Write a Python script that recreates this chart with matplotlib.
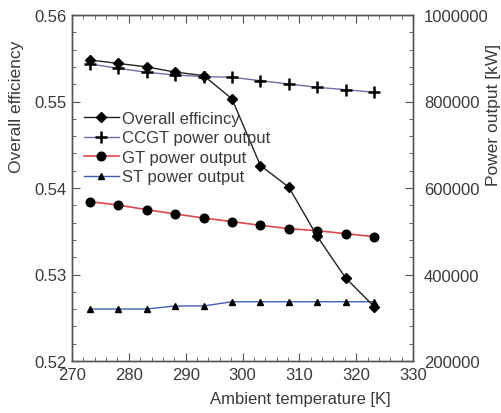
import matplotlib
matplotlib.use("Agg")
import matplotlib.pyplot as plt
from matplotlib.ticker import MultipleLocator
from matplotlib.lines import Line2D

plt.rcParams['font.family'] = ['Liberation Sans', 'DejaVu Sans']

# Ambient temperature [K]
temperature = [273.15, 278.15, 283.15, 288.15, 293.15, 298.15,
               303.15, 308.15, 313.15, 318.15, 323.15]

# Overall efficiency [-]
efficiency = [0.5548, 0.5544, 0.5540, 0.5534, 0.5530, 0.5503,
              0.5426, 0.5401, 0.5344, 0.5296, 0.5263]

# Power outputs [kW]
ccgt_power = [886700, 876800, 867500, 861300, 857400, 856000,
              848100, 840500, 832800, 827300, 821300]
gt_power = [568300, 560700, 549800, 540000, 530600, 522200,
            513800, 506000, 501300, 494400, 487500]
st_power = [320200, 320200, 320200, 327200, 327200, 337000,
            337000, 337000, 337000, 337000, 337000]

series_labels = ["Overall efficincy", "CCGT power output",
                 "GT power output", "ST power output"]

text_color = "#3a3a3a"
spine_color = "#555555"

fig = plt.figure(figsize=(5.01, 4.14), dpi=100)
ax = fig.add_axes([72 / 501, 1 - 362 / 414, 341 / 501, 346 / 414])
ax2 = ax.twinx()

c_ccgt = "#7b68a8"
c_gt = "#e0474c"
c_st = "#3f5fb5"

style_eff = dict(color="#222222", lw=1.0, marker="D", ms=5,
                 mec="black", mfc="black")
style_ccgt = dict(color=c_ccgt, lw=1.0, marker="+", ms=9, mew=1.8,
                  mec="black", mfc="black")
style_gt = dict(color=c_gt, lw=1.2, marker="o", ms=6.2,
                mec="black", mfc="black")
style_st = dict(color=c_st, lw=1.0, marker="^", ms=5,
                mec="black", mfc="black")

ax2.plot(temperature, ccgt_power, zorder=3, **style_ccgt)
ax2.plot(temperature, gt_power, zorder=3, **style_gt)
ax2.plot(temperature, st_power, zorder=3, **style_st)

ax.set_zorder(ax2.get_zorder() + 1)
ax.patch.set_visible(False)
ax.plot(temperature, efficiency, zorder=4, **style_eff)

ax.set_xlim(270, 330)
ax.set_ylim(0.52, 0.56)
ax2.set_ylim(200000, 1000000)

ax.xaxis.set_major_locator(MultipleLocator(10))
ax.xaxis.set_minor_locator(MultipleLocator(2))
ax.yaxis.set_major_locator(MultipleLocator(0.01))
ax.yaxis.set_minor_locator(MultipleLocator(0.002))
ax2.yaxis.set_major_locator(MultipleLocator(200000))
ax2.yaxis.set_minor_locator(MultipleLocator(40000))
ax.yaxis.set_major_formatter(plt.FuncFormatter(lambda v, p: f"{v:.2f}"))
ax2.yaxis.set_major_formatter(plt.FuncFormatter(lambda v, p: f"{int(round(v))}"))

for a in (ax, ax2):
    for s in a.spines.values():
        s.set_color(spine_color)
        s.set_linewidth(1.0)

ax.tick_params(axis="x", which="both", direction="in", top=True,
               colors=spine_color, labelcolor=text_color, labelsize=12, pad=4)
ax.tick_params(axis="x", which="major", length=6)
ax.tick_params(axis="x", which="minor", length=3)
ax.tick_params(axis="y", which="both", direction="in", right=False,
               colors=spine_color, labelcolor=text_color, labelsize=12, pad=4)
ax.tick_params(axis="y", which="major", length=6)
ax.tick_params(axis="y", which="minor", length=3)
ax2.tick_params(axis="y", which="both", direction="in",
                colors=spine_color, labelcolor=text_color, labelsize=12, pad=8)
ax2.tick_params(axis="y", which="major", length=6)
ax2.tick_params(axis="y", which="minor", length=3)

ax.set_xlabel("Ambient temperature [K]", fontsize=12, color=text_color)
ax.xaxis.set_label_coords(0.67, -0.087)
ax.set_ylabel("Overall efficiency", fontsize=12.5, color=text_color)
ax.yaxis.set_label_coords(-0.142, 0.737)
ax2.set_ylabel("Power output [kW]", fontsize=12.5, color=text_color)
ax2.yaxis.set_label_coords(1.214, 0.715)

handles = [Line2D([], [], **style_eff), Line2D([], [], **style_ccgt),
           Line2D([], [], **style_gt), Line2D([], [], **style_st)]
leg = ax.legend(handles, series_labels, loc="upper left",
                bbox_to_anchor=(0.015, 0.742), frameon=False, fontsize=12,
                handlelength=2.1, handletextpad=0.2, labelspacing=0.27,
                borderaxespad=0.0)
for t in leg.get_texts():
    t.set_color(text_color)

fig.savefig("out.png", dpi=100)
